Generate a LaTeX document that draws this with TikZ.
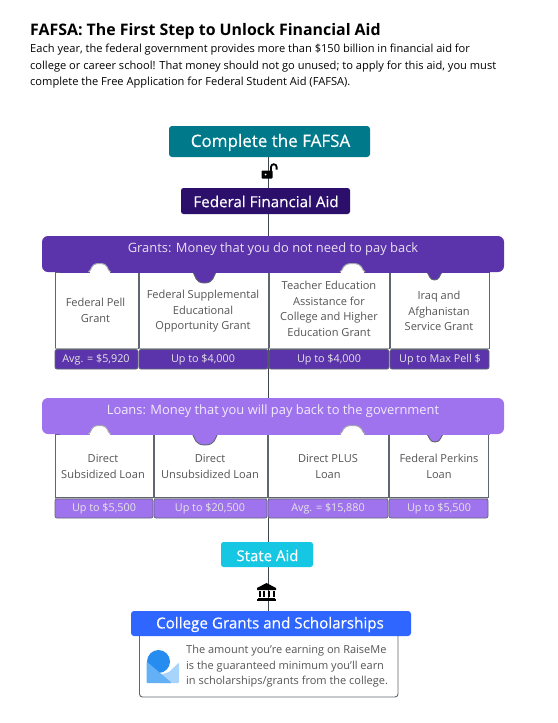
\documentclass[tikz,border=0pt]{standalone}
\usepackage{fontspec}
\setmainfont{Open Sans}
\newfontfamily\medfont[FakeBold=0.35]{Open Sans}
\definecolor{teal1}{HTML}{007A8A}
\definecolor{navy1}{HTML}{2B0F6B}
\definecolor{grant1}{HTML}{5B33AB}
\definecolor{loan1}{HTML}{A073EE}
\definecolor{state1}{HTML}{16C7E3}
\definecolor{coll1}{HTML}{2F66FF}
\definecolor{txt1}{HTML}{555555}
\definecolor{edge1}{HTML}{5F6670}
\definecolor{soft1}{HTML}{A5A9AE}
\definecolor{lineC}{HTML}{3F4650}
\definecolor{logoA}{HTML}{A8D4FC}
\definecolor{logoB}{HTML}{64B0F7}
\definecolor{logoC}{HTML}{268CF0}
\newcommand{\bumpup}[3]{% centre x, half width, baseline y
 \fill[white,draw=soft1,line width=1pt] (#1-#2,#3) .. controls (#1-#2+4,#3-2) and (#1-#2+1,#3-8.5) .. (#1,#3-8.5) .. controls (#1+#2-1,#3-8.5) and (#1+#2-4,#3-2) .. (#1+#2,#3);
 \fill[white] (#1-#2+1,#3-0.5) rectangle (#1+#2-1,#3+1);
}
\newcommand{\tabdown}[5]{% centre x, half width, baseline y, depth, colour
 \path[fill=#5,draw=edge1,line width=0.9pt] (#1-#2,#3) .. controls (#1-#2+2.5,#3+0.4*#4) and (#1-#2+2.5,#3+#4) .. (#1,#3+#4) .. controls (#1+#2-2.5,#3+#4) and (#1+#2-2.5,#3+0.4*#4) .. (#1+#2,#3);
 \fill[#5] (#1-#2-0.5,#3-1) rectangle (#1+#2+0.5,#3+0.6);
}
\tikzset{
 x=1pt,y=-1pt,
 cardtext/.style={inner sep=0,align=center,text=txt1,font=\fontsize{11.05}{15.6}\selectfont},
 foottext/.style={inner sep=0,text=white!90!black,font=\fontsize{10.8}{12}\selectfont},
 cardbox/.style={draw=edge1,line width=0.9pt,fill=white},
 link/.style={draw=lineC,line width=0.9pt},
}
\begin{document}
\begin{tikzpicture}
\useasboundingbox (0,0) rectangle (557,723);
\fill[white] (0,0) rectangle (557,723);
\coordinate (complete) at (268,157);
\coordinate (federal) at (268,188);
\coordinate (federalb) at (268,214);
\coordinate (grantsT) at (268,236);
\coordinate (stateT) at (268,542);
\coordinate (stateB) at (268,567);
\coordinate (collegeT) at (268,611);
\draw[link] (complete) -- (federal);
\draw[link] (federalb) -- (grantsT);
\draw[link] (grantsT) -- (stateT);
\draw[link] (stateB) -- (collegeT);
% title
\node[anchor=base west,inner sep=0,text=black,font=\fontsize{15.9}{20}\selectfont\bfseries] (title) at (30,35) {FAFSA: The First Step to Unlock Financial Aid};
\node[anchor=base west,inner sep=0,text=black,font=\fontsize{11.1}{14}\selectfont] (l1) at (30,52.5) {Each year, the federal government provides more than \$150 billion in financial aid for};
\node[anchor=base west,inner sep=0,text=black,font=\fontsize{11.1}{14}\selectfont] (l2) at (30,69) {college or career school! That money should not go unused; to apply for this aid, you must};
\node[anchor=base west,inner sep=0,text=black,font=\fontsize{11.1}{14}\selectfont] (l3) at (30,85) {complete the Free Application for Federal Student Aid (FAFSA).};
% top boxes
\fill[teal1,rounded corners=3pt] (169,126) rectangle (370,157);
\node[text=white,inner sep=0,font=\medfont\fontsize{17}{18}\selectfont] (completeT) at (270.5,142.5) {Complete the FAFSA};
\fill[navy1,rounded corners=2.5pt] (181,188) rectangle (350,214);
\node[text=white,inner sep=0,font=\medfont\fontsize{15.2}{16}\selectfont] (federalT) at (266,201.5) {Federal Financial Aid};
% lock icon
\fill[black,rounded corners=0.8pt] (261.5,170.5) rectangle (272.5,178.5);
\fill[white] (265.5,174.5) circle (1pt);
\draw[black,line width=1.8pt] (271,171) -- (271,167) arc (180:0:2.8pt) -- (276.6,169.5);
% Grants
\foreach \x/\X in {55/138,139/268,269/389,390/489}{
 \draw[cardbox] (\x,272) rectangle (\X,348);
 \fill[grant1,rounded corners=2pt,draw=edge1,line width=0.7pt] (\x,349.5) rectangle (\X,369);
 \draw[soft1,line width=1pt] (\x,348.5) -- (\X,348.5);
}
\fill[grant1,rounded corners=6pt] (42,236) rectangle (504,272);
\fill[grant1] (60,266) rectangle (490,272.5);
\bumpup{99.5}{11}{272}
\bumpup{352.5}{12.5}{272}
\tabdown{204.5}{11.5}{272}{11}{grant1}
\tabdown{434.5}{7.5}{272}{8}{grant1}
\node[text=white!85!grant1,inner sep=0,font=\fontsize{12.9}{15}\selectfont] (grantsH) at (273,249) {Grants: Money that you do not need to pay back};
\node[cardtext] (g1) at (95.5,310.5) {Federal Pell\\Grant};
\node[cardtext] (g2) at (203,311.5) {Federal Supplemental\\Educational\\Opportunity Grant};
\node[cardtext] (g3) at (329,309) {Teacher Education\\Assistance for\\College and Higher\\Education Grant};
\node[cardtext] (g4) at (439,311) {Iraq and\\Afghanistan\\Service Grant};
\node[foottext] (gf1) at (96,360) {Avg. = \$5,920};
\node[foottext] (gf2) at (203,360) {Up to \$4,000};
\node[foottext] (gf3) at (329,360) {Up to \$4,000};
\node[foottext] (gf4) at (440,360) {Up to Max Pell \$};
% Loans
\foreach \x/\X in {55/153,154/267,268/388,389/488}{
 \draw[cardbox] (\x,434) rectangle (\X,497.5);
 \fill[loan1,rounded corners=2pt,draw=edge1,line width=0.7pt] (\x,499) rectangle (\X,518);
 \draw[soft1,line width=1.2pt] (\x,498.3) -- (\X,498.3);
}
\fill[loan1,rounded corners=6pt] (42,398) rectangle (504,434);
\fill[loan1] (60,428) rectangle (490,434.5);
\bumpup{99.5}{11}{434}
\bumpup{352.5}{12.5}{434}
\tabdown{205}{12.5}{434}{11}{loan1}
\tabdown{435}{8}{434}{8}{loan1}
\node[text=white!85!loan1,inner sep=0,font=\fontsize{12.9}{15}\selectfont] (loansH) at (273,411) {Loans: Money that you will pay back to the government};
\node[cardtext] (l1c) at (103,466.5) {Direct\\Subsidized Loan};
\node[cardtext] (l2c) at (210,466.5) {Direct\\Unsubsidized Loan};
\node[cardtext] (l3c) at (328,466.5) {Direct PLUS\\Loan};
\node[cardtext] (l4c) at (439,466.5) {Federal Perkins\\Loan};
\node[foottext] (lf1) at (104,509) {Up to \$5,500};
\node[foottext] (lf2) at (210,509) {Up to \$20,500};
\node[foottext] (lf3) at (328,509) {Avg. = \$15,880};
\node[foottext] (lf4) at (439,509) {Up to \$5,500};
% State
\fill[state1,rounded corners=2.5pt] (221,542) rectangle (313,567);
\node[text=white,inner sep=0,font=\medfont\fontsize{15}{16}\selectfont] (stateH) at (267.5,555.5) {State Aid};
% bank icon
\fill[black] (257,588) -- (266.5,583) -- (276,588) -- (276,590) -- (257,590) -- cycle;
\foreach \x in {259,263,268,272.5}{\fill[black] (\x,591) rectangle (\x+2.4,597);}
\fill[black] (258,597.5) rectangle (275,599);
\fill[black] (257,599) rectangle (276,600.5);
% College
\draw[edge1,line width=0.9pt,rounded corners=3pt,fill=white] (139.5,630) rectangle (398,697);
\fill[coll1,rounded corners=3pt] (131,611) rectangle (411,636);
\node[text=white,inner sep=0,font=\medfont\fontsize{15.2}{16}\selectfont] (collegeH) at (270,624.5) {College Grants and Scholarships};
\node[inner sep=0,anchor=west,align=left,text=txt1,font=\fontsize{11}{15.4}\selectfont] (collegeB) at (186,666.5) {The amount you’re earning on RaiseMe\\is the guaranteed minimum you’ll earn\\in scholarships/grants from the college.};
% RaiseMe logo
\fill[logoA,rounded corners=1pt] (179,662.5) -- (179,683) -- (160,683) -- (160,675) -- (169,672) -- cycle;
\fill[logoC] (158.5,661.5) circle (11.5pt);
\fill[logoB,rounded corners=1pt] (146.5,661.5) -- (172,683) -- (146.5,683) -- cycle;
\end{tikzpicture}
\end{document}
